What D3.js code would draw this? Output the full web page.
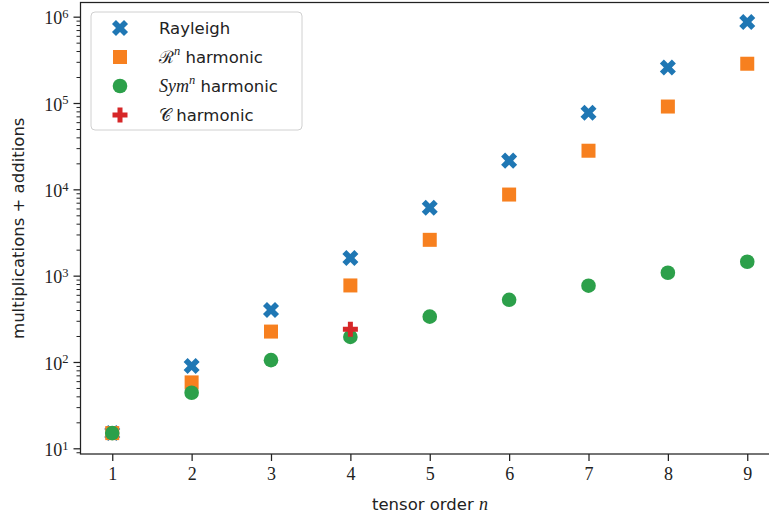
<html lang="en">
<head>
<meta charset="utf-8">
<title>Tensor order cost</title>
<style>
  body { margin: 0; background: white; }
  .tick text { font-family: "Liberation Serif", "DejaVu Serif", serif; font-size: 18px; fill: #222; }
  .lbl { font-family: "DejaVu Sans", sans-serif; font-size: 16.5px; fill: #222; }
  .math { font-family: "Liberation Serif", "DejaVu Serif", serif; font-style: italic; }
  .cal { font-family: "DejaVu Serif", serif; font-style: normal; }
</style>
</head>
<body>
<div id="chart"></div>
<script src="https://cdn.jsdelivr.net/npm/d3@7"></script>
<script>
var orders = [1, 2, 3, 4, 5, 6, 7, 8, 9];
var rayleigh = [15, 90, 400, 1600, 6100, 21500, 77000, 258000, 870000];
var rnHarmonic = [15, 58, 225, 770, 2600, 8700, 28000, 91000, 285000];
var symHarmonic = [15, 44, 105, 195, 335, 525, 765, 1080, 1450];
var cOrders = [4];
var cHarmonic = [240];
var xTicks = [1, 2, 3, 4, 5, 6, 7, 8, 9];
var yMajor = [1e1, 1e2, 1e3, 1e4, 1e5, 1e6];

var width = 769, height = 520;
var svg = d3.select("#chart").append("svg")
  .attr("width", width).attr("height", height);

var x = d3.scaleLinear().domain([0.6, 9.4]).range([80.5, 779]);
var y = d3.scaleLog().domain([Math.pow(10, 0.934), Math.pow(10, 6.17)]).range([454, 2]);

var plotL = 80.5, plotT = 2.5, plotB = 454;

// minor ticks on the log axis
var yMinor = [];
[1, 10, 100, 1000, 10000, 100000, 1000000].forEach(function(d) {
  for (var k = 2; k <= 9; k++) {
    var v = d * k;
    if (v >= y.domain()[0] && v <= y.domain()[1]) yMinor.push(v);
  }
});

var yAxisMinor = d3.axisLeft(y).tickValues(yMinor).tickSize(4).tickFormat("");
svg.append("g").attr("transform", "translate(" + plotL + ",0)").call(yAxisMinor)
  .call(function(g) { g.select(".domain").remove(); g.selectAll("line").attr("stroke", "#222").attr("stroke-width", 1); });

var yAxis = d3.axisLeft(y).tickValues(yMajor).tickSize(7).tickFormat("");
var gy = svg.append("g").attr("transform", "translate(" + plotL + ",0)").call(yAxis);
gy.select(".domain").remove();
gy.selectAll("line").attr("stroke", "#222").attr("stroke-width", 1.25);
gy.selectAll(".tick").append("text")
  .attr("x", -12).attr("dy", "0.4em").attr("text-anchor", "end")
  .each(function(d) {
    var t = d3.select(this);
    t.append("tspan").text("10");
    t.append("tspan").attr("dy", "-0.5em").attr("font-size", "12.5px").text(Math.round(Math.log10(d)));
  });

var xAxis = d3.axisBottom(x).tickValues(xTicks).tickSize(7).tickPadding(6).tickFormat(d3.format("d"));
var gx = svg.append("g").attr("transform", "translate(0," + plotB + ")").call(xAxis);
gx.select(".domain").remove();
gx.selectAll("line").attr("stroke", "#222").attr("stroke-width", 1.25);
gx.selectAll("text").attr("fill", "#222");

// spines
svg.append("rect").attr("x", plotL).attr("y", plotT)
  .attr("width", 779 - plotL).attr("height", plotB - plotT)
  .attr("fill", "none").attr("stroke", "#222").attr("stroke-width", 1.25);

// axis labels
var xl = svg.append("text").attr("class", "lbl").attr("x", 430).attr("y", 510).attr("text-anchor", "middle");
xl.append("tspan").text("tensor order\u00a0");
xl.append("tspan").attr("class", "math").attr("font-size", "18px").text("n");

svg.append("text").attr("class", "lbl")
  .attr("transform", "translate(24," + ((plotT + plotB) / 2) + ") rotate(-90)")
  .attr("text-anchor", "middle").text("multiplications + additions");

// filled plus marker, matplotlib style (arm width = 1/3 size)
function plusPath(s) {
  var a = s / 2, b = s / 6;
  return "M" + [[-b,-a],[b,-a],[b,-b],[a,-b],[a,b],[b,b],[b,a],[-b,a],[-b,b],[-a,b],[-a,-b],[-b,-b]].map(function(p) { return p.join(","); }).join("L") + "Z";
}

function marker(g, kind, cx, cy, color) {
  if (kind === "X") {
    g.append("path").attr("d", plusPath(17)).attr("transform", "translate(" + cx + "," + cy + ") rotate(45)").attr("fill", color);
  } else if (kind === "square") {
    g.append("rect").attr("x", cx - 7).attr("y", cy - 7).attr("width", 14).attr("height", 14).attr("fill", color);
  } else if (kind === "circle") {
    g.append("circle").attr("cx", cx).attr("cy", cy).attr("r", 7.3).attr("fill", color);
  } else if (kind === "plus") {
    g.append("path").attr("d", plusPath(15)).attr("transform", "translate(" + cx + "," + cy + ")").attr("fill", color);
  }
}

function drawSeries(xs, ys, color, kind) {
  var g = svg.append("g");
  xs.forEach(function(xv, i) { marker(g, kind, x(xv), y(ys[i]), color); });
}

drawSeries(orders, rayleigh, "#1f77b4", "X");
drawSeries(orders, rnHarmonic, "#f7801f", "square");
drawSeries(orders, symHarmonic, "#2ca04a", "circle");
drawSeries(cOrders, cHarmonic, "#d62728", "plus");

// legend
var lg = svg.append("g");
lg.append("rect").attr("x", 91).attr("y", 12).attr("width", 211).attr("height", 118)
  .attr("rx", 4).attr("fill", "white").attr("fill-opacity", 0.8)
  .attr("stroke", "#d0d0d0").attr("stroke-width", 1);

var rows = [28, 57, 86, 115];
var mx = 120;
marker(lg, "X", mx, rows[0], "#1f77b4");
marker(lg, "square", mx, rows[1], "#f7801f");
marker(lg, "circle", mx, rows[2], "#2ca04a");
marker(lg, "plus", mx, rows[3], "#d62728");

var tx = 159;
lg.append("text").attr("class", "lbl").attr("x", tx).attr("y", rows[0]).attr("dy", "0.35em").text("Rayleigh");
var t1 = lg.append("text").attr("class", "lbl").attr("x", tx).attr("y", rows[1]).attr("dy", "0.35em");
t1.append("tspan").attr("class", "cal").attr("font-size", "17px").text("ℛ");
t1.append("tspan").attr("class", "math").attr("font-size", "12.5px").attr("dy", "-0.6em").text("n");
t1.append("tspan").attr("dy", "0.45em").text("\u00a0harmonic");
var t2 = lg.append("text").attr("class", "lbl").attr("x", tx).attr("y", rows[2]).attr("dy", "0.35em");
t2.append("tspan").attr("class", "math").attr("font-size", "18px").text("Sym");
t2.append("tspan").attr("class", "math").attr("font-size", "12.5px").attr("dy", "-0.6em").text("n");
t2.append("tspan").attr("dy", "0.45em").text("\u00a0harmonic");
var t3 = lg.append("text").attr("class", "lbl").attr("x", tx).attr("y", rows[3]).attr("dy", "0.35em");
t3.append("tspan").attr("class", "cal").attr("font-size", "17px").text("𝒞");
t3.append("tspan").text("\u00a0harmonic");
</script>
</body>
</html>
